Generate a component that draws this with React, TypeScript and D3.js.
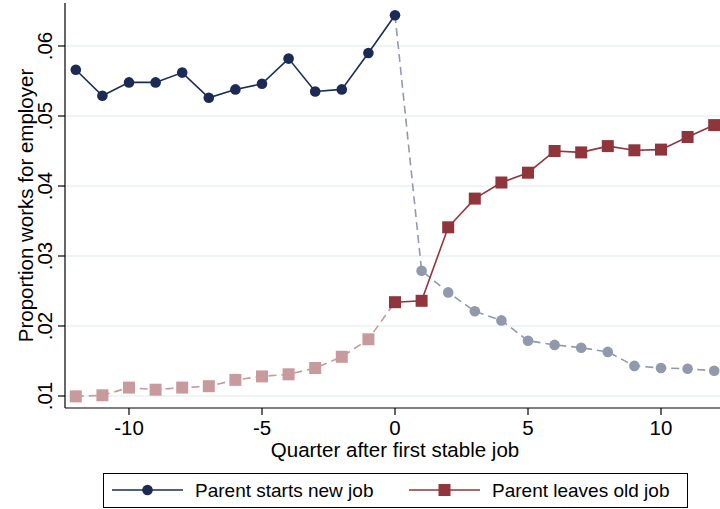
import React, { useRef, useEffect } from 'react';
import * as d3 from 'd3';

const quarters = d3.range(-12, 13);
const newJob = [
  0.0566, 0.0529, 0.0548, 0.0548, 0.0562, 0.0526, 0.0538, 0.0546, 0.0582, 0.0535, 0.0538, 0.059,
  0.0644, 0.0279, 0.0248, 0.0221, 0.0208, 0.0179, 0.0173, 0.0169, 0.0163, 0.0143, 0.014, 0.0139,
  0.0136,
];
const oldJob = [
  0.00995, 0.0101, 0.0112, 0.0109, 0.0112, 0.0114, 0.0123, 0.0128, 0.0131, 0.014, 0.0156, 0.0181,
  0.0234, 0.0236, 0.0341, 0.0382, 0.0405, 0.0419, 0.045, 0.0448, 0.0457, 0.0451, 0.0452, 0.047,
  0.0487,
];
const yTicks = [0.01, 0.02, 0.03, 0.04, 0.05, 0.06];
const xTicks = [-10, -5, 0, 5, 10];
const legendLabels = ['Parent starts new job', 'Parent leaves old job'];

const NAVY = '#1c2b55';
const NAVY_FADED = '#9299ad';
const MAROON = '#90353b';
const MAROON_FADED = '#c99a9d';
const FONT = "'Liberation Sans', Arial, sans-serif";
const AXIS_FS = 20.5;
const LEGEND_FS = 19;

const App: React.FC = () => {
  const ref = useRef<SVGSVGElement | null>(null);
  useEffect(() => {
    if (!ref.current) return;
    const svg = d3.select(ref.current);
    svg.selectAll('*').remove();

    const x = d3.scaleLinear().domain([-12, 12]).range([75.8, 714.2]);
    const y = d3.scaleLinear().domain([0.01, 0.06]).range([396, 46]);
    const left = 65;
    const bottom = 408;

    svg.append('rect').attr('width', 720).attr('height', 509).attr('fill', '#fff');

    // gridlines
    svg
      .append('g')
      .selectAll('line')
      .data(yTicks)
      .enter()
      .append('line')
      .attr('x1', left)
      .attr('x2', 720)
      .attr('y1', (d) => y(d))
      .attr('y2', (d) => y(d))
      .attr('stroke', '#eaf0f2')
      .attr('stroke-width', 1.3);

    // axes
    svg.append('line').attr('x1', left).attr('x2', left).attr('y1', 3).attr('y2', bottom)
      .attr('stroke', '#000').attr('stroke-width', 1.2);
    svg.append('line').attr('x1', left).attr('x2', 720).attr('y1', bottom).attr('y2', bottom)
      .attr('stroke', '#000').attr('stroke-width', 1.2);

    const yt = svg.append('g').selectAll('g').data(yTicks).enter().append('g');
    yt.append('line').attr('x1', 58).attr('x2', left).attr('y1', (d) => y(d)).attr('y2', (d) => y(d))
      .attr('stroke', '#000').attr('stroke-width', 1.2);
    yt.append('text')
      .attr('transform', (d) => `translate(52,${y(d)}) rotate(-90)`)
      .attr('text-anchor', 'middle')
      .attr('font-family', FONT)
      .attr('font-size', AXIS_FS)
      .text((d) => d3.format('.2f')(d).replace(/^0/, ''));

    const xt = svg.append('g').selectAll('g').data(xTicks).enter().append('g');
    xt.append('line').attr('x1', (d) => x(d)).attr('x2', (d) => x(d)).attr('y1', bottom).attr('y2', 415)
      .attr('stroke', '#000').attr('stroke-width', 1.2);
    xt.append('text')
      .attr('x', (d) => x(d))
      .attr('y', 435)
      .attr('text-anchor', 'middle')
      .attr('font-family', FONT)
      .attr('font-size', AXIS_FS)
      .text((d) => String(d));

    svg.append('text').attr('x', x(0)).attr('y', 457).attr('text-anchor', 'middle')
      .attr('font-family', FONT).attr('font-size', AXIS_FS).text('Quarter after first stable job');
    svg.append('text').attr('transform', `translate(33,${(3 + bottom) / 2}) rotate(-90)`)
      .attr('text-anchor', 'middle').attr('font-family', FONT).attr('font-size', AXIS_FS)
      .text('Proportion works for employer');

    const line = d3
      .line<[number, number]>()
      .x((d) => x(d[0]))
      .y((d) => y(d[1]));

    const pts = (vals: number[]) => quarters.map((q, i) => [q, vals[i]] as [number, number]);
    const nj = pts(newJob);
    const oj = pts(oldJob);
    const pre = (p: [number, number][]) => p.filter((d) => d[0] <= 0);
    const post = (p: [number, number][]) => p.filter((d) => d[0] >= 0);

    const drawLine = (data: [number, number][], color: string, dashed: boolean) => {
      svg.append('path').attr('d', line(data) as string).attr('fill', 'none')
        .attr('stroke', color).attr('stroke-width', 1.6)
        .attr('stroke-dasharray', dashed ? '8,5' : null);
    };
    const drawCircles = (data: [number, number][], color: string) => {
      svg.append('g').selectAll('circle').data(data).enter().append('circle')
        .attr('cx', (d) => x(d[0])).attr('cy', (d) => y(d[1])).attr('r', 5.3).attr('fill', color);
    };
    const drawSquares = (data: [number, number][], color: string) => {
      svg.append('g').selectAll('rect').data(data).enter().append('rect')
        .attr('x', (d) => x(d[0]) - 6).attr('y', (d) => y(d[1]) - 6)
        .attr('width', 12).attr('height', 12).attr('fill', color);
    };

    // faded parts first
    drawLine(post(nj), NAVY_FADED, true);
    drawCircles(post(nj).filter((d) => d[0] > 0), NAVY_FADED);
    drawLine(pre(oj), MAROON_FADED, true);
    drawSquares(pre(oj).filter((d) => d[0] < 0), MAROON_FADED);
    // solid parts
    drawLine(pre(nj), NAVY, false);
    drawCircles(pre(nj), NAVY);
    drawLine(post(oj), MAROON, false);
    drawSquares(post(oj), MAROON);

    // legend
    const lg = svg.append('g');
    lg.append('rect').attr('x', 103.5).attr('y', 473.5).attr('width', 584).attr('height', 34)
      .attr('fill', '#fff').attr('stroke', '#000').attr('stroke-width', 1);
    const items = [
      { label: legendLabels[0], color: NAVY, x0: 112, shape: 'circle' },
      { label: legendLabels[1], color: MAROON, x0: 409, shape: 'square' },
    ];
    items.forEach((it) => {
      lg.append('line').attr('x1', it.x0).attr('x2', it.x0 + 71).attr('y1', 490).attr('y2', 490)
        .attr('stroke', it.color).attr('stroke-width', 1.6);
      if (it.shape === 'circle') {
        lg.append('circle').attr('cx', it.x0 + 35.5).attr('cy', 490).attr('r', 5.3).attr('fill', it.color);
      } else {
        lg.append('rect').attr('x', it.x0 + 29.5).attr('y', 484).attr('width', 12).attr('height', 12)
          .attr('fill', it.color);
      }
      lg.append('text').attr('x', it.x0 + 83).attr('y', 497).attr('font-family', FONT)
        .attr('font-size', LEGEND_FS).text(it.label);
    });
  }, []);
  return (
    <svg
      ref={ref}
      width={720}
      height={509}
      style={{ position: 'absolute', left: 0, top: 0, display: 'block' }}
    />
  );
};

export default App;
